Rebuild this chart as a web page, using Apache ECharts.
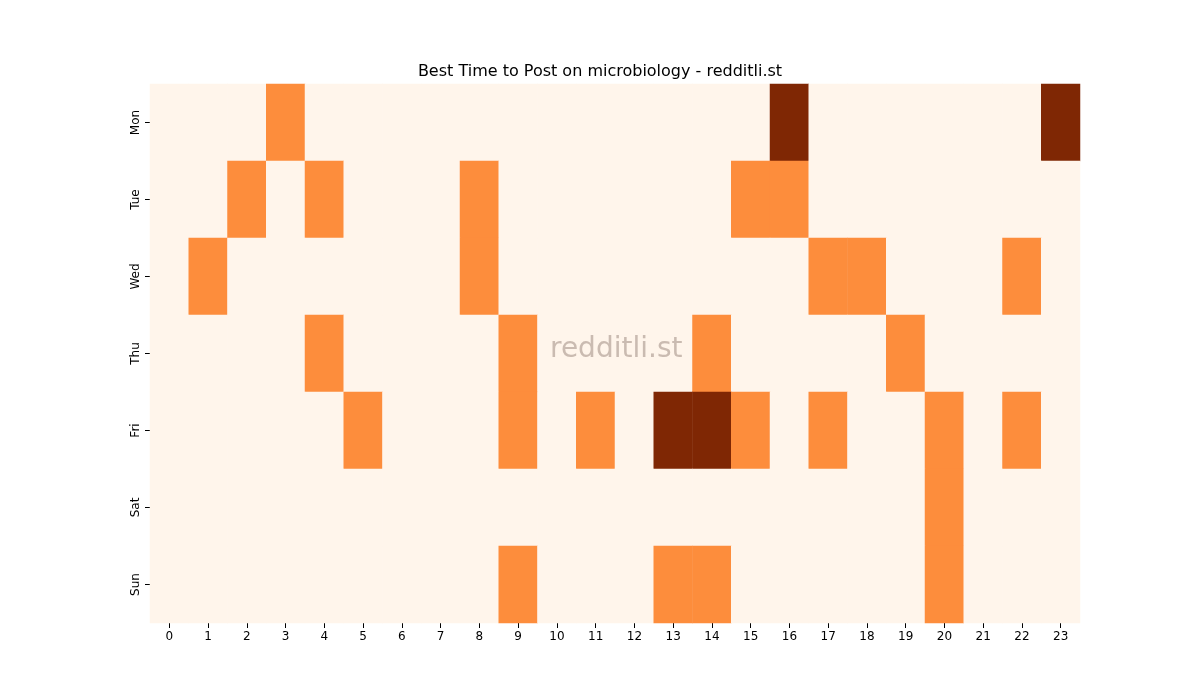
<!DOCTYPE html>
<html><head><meta charset="utf-8">
<script src="https://cdn.jsdelivr.net/npm/echarts@6/dist/echarts.min.js"></script>
<style>html,body{margin:0;background:#fff}#c{width:1200px;height:700px}</style>
</head><body><div id="c"></div>
<script>
const hours = Array.from({length:24},(_,i)=>String(i));
const days = ['Mon','Tue','Wed','Thu','Fri','Sat','Sun'];
const mon = {3:1,16:2,23:2};
const tue = {2:1,4:1,8:1,15:1,16:1};
const wed = {1:1,8:1,17:1,18:1,22:1};
const thu = {4:1,9:1,14:1,19:1};
const fri = {5:1,9:1,11:1,13:2,14:2,15:1,17:1,20:1,22:1};
const sat = {20:1};
const sun = {9:1,13:1,14:1,20:1};
const rows = [mon,tue,wed,thu,fri,sat,sun];
const data = [];
rows.forEach((r,d)=>{for(let h=0;h<24;h++) data.push([h,d,r[h]||0]);});
const chart = echarts.init(document.getElementById('c'));
chart.setOption({
  animation:false,
  title:{text:'Best Time to Post on microbiology - redditli.st',left:'center',top:59,textStyle:{fontFamily:'DejaVu Sans',fontSize:16,fontWeight:'normal',color:'#000'}},
  graphic:[{type:'text',left:550,top:336,style:{text:'redditli.st',fontFamily:'DejaVu Sans',fontSize:28,fill:'rgba(150,130,120,0.5)'},z:100}],
  grid:{left:150,right:120,top:84,bottom:77},
  xAxis:{type:'category',data:hours,axisLine:{show:false},axisTick:{show:true,alignWithLabel:true,lineStyle:{color:'#000'}},axisLabel:{color:'#000',fontSize:12,fontFamily:'DejaVu Sans'},splitLine:{show:false}},
  yAxis:{type:'category',data:days,inverse:true,axisLine:{show:false},axisTick:{show:true,alignWithLabel:true,lineStyle:{color:'#000'}},axisLabel:{color:'#000',fontSize:12,rotate:90,fontFamily:'DejaVu Sans'},splitLine:{show:false}},
  visualMap:{show:false,type:'piecewise',dimension:2,pieces:[{value:0,color:'#fff5eb'},{value:1,color:'#fd8d3c'},{value:2,color:'#7f2704'}]},
  series:[{type:'heatmap',data:data,itemStyle:{borderWidth:0}}]
});
</script></body></html>
